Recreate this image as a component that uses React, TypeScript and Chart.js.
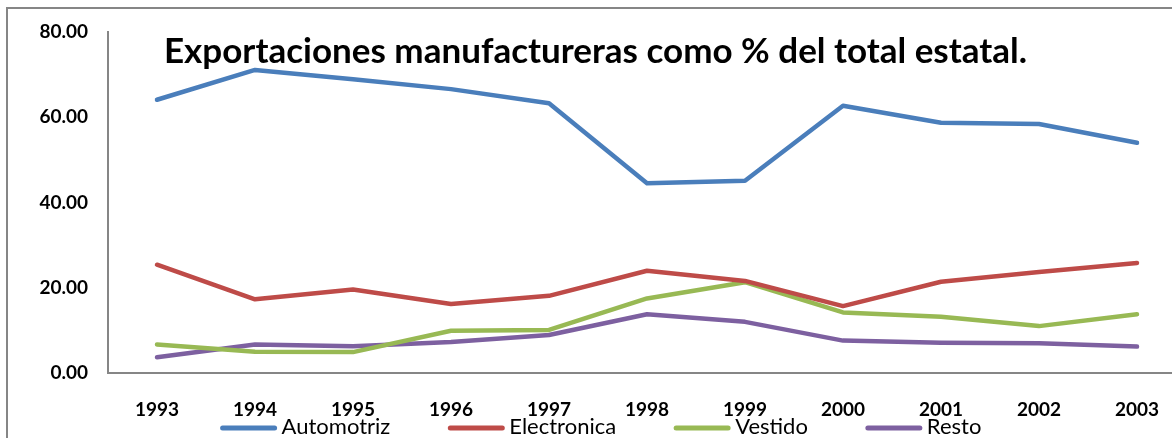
import React, { useEffect, useRef } from 'react';
import { Chart, registerables } from 'chart.js';

Chart.register(...registerables);

const years = ['1993', '1994', '1995', '1996', '1997', '1998', '1999', '2000', '2001', '2002', '2003'];
const automotriz = [64.1, 71.1, 68.9, 66.6, 63.3, 44.5, 45.1, 62.7, 58.7, 58.4, 54.0];
const electronica = [25.4, 17.3, 19.6, 16.2, 18.1, 24.0, 21.6, 15.7, 21.4, 23.7, 25.8];
const vestido = [6.7, 5.0, 4.9, 9.9, 10.1, 17.5, 21.3, 14.2, 13.2, 11.0, 13.8];
const resto = [3.7, 6.7, 6.3, 7.3, 8.9, 13.8, 12.0, 7.6, 7.1, 7.0, 6.2];
const yTicks = [0, 20, 40, 60, 80];
const seriesNames = ['Automotriz', 'Electronica', 'Vestido', 'Resto'];
const seriesColors = ['#4A7EBB', '#BE4B48', '#98B954', '#7D60A0'];
const titleText = 'Exportaciones manufactureras como % del total estatal.';

const W = 1186;
const H = 438;

const framePlugin = {
  id: 'frame',
  beforeDraw(chart: any) {
    const ctx = chart.ctx;
    ctx.save();
    ctx.fillStyle = '#ffffff';
    ctx.fillRect(0, 0, chart.width, chart.height);
    ctx.strokeStyle = '#868686';
    ctx.lineWidth = 2;
    ctx.beginPath();
    ctx.moveTo(7, H);
    ctx.lineTo(7, 8);
    ctx.lineTo(W, 8);
    ctx.stroke();
    ctx.restore();
  },
};

const legendPlugin = {
  id: 'bottomLegend',
  afterDraw(chart: any) {
    const ctx = chart.ctx;
    ctx.save();
    ctx.font = '22px Lato';
    ctx.textBaseline = 'middle';
    ctx.textAlign = 'left';
    const lineLen = 56;
    const gapText = 5;
    const gapItems = 58;
    const items = chart.data.datasets.map((ds: any) => ({
      label: ds.label,
      color: ds.borderColor,
      w: ctx.measureText(ds.label).width,
    }));
    let total = 0;
    items.forEach((it: any, i: number) => {
      total += lineLen + gapText + it.w + (i < items.length - 1 ? gapItems : 0);
    });
    let x = 601 - total / 2;
    const y = 428;
    items.forEach((it: any) => {
      ctx.strokeStyle = it.color;
      ctx.lineWidth = 5;
      ctx.lineCap = 'round';
      ctx.beginPath();
      ctx.moveTo(x + 2, y);
      ctx.lineTo(x + lineLen - 2, y);
      ctx.stroke();
      ctx.fillStyle = '#000000';
      ctx.fillText(it.label, x + lineLen + gapText, y - 1);
      x += lineLen + gapText + it.w + gapItems;
    });
    ctx.restore();
  },
};

export default function App() {
  const ref = useRef<HTMLCanvasElement | null>(null);

  useEffect(() => {
    if (!ref.current) return;
    const series = [automotriz, electronica, vestido, resto];
    const chart = new Chart(ref.current, {
      type: 'line',
      data: {
        labels: years,
        datasets: series.map((d, i) => ({
          label: seriesNames[i],
          data: d,
          borderColor: seriesColors[i],
          backgroundColor: seriesColors[i],
          borderWidth: 4.5,
          pointRadius: 0,
          tension: 0,
          borderCapStyle: 'round',
          borderJoinStyle: 'round',
        })),
      },
      options: {
        responsive: false,
        animation: false,
        layout: { padding: { left: 5, right: 0, top: 0, bottom: 0 } },
        plugins: {
          legend: { display: false },
          tooltip: { enabled: false },
          title: {
            display: true,
            text: titleText,
            color: '#000000',
            font: { family: 'Lato', size: 35, weight: 'bold', lineHeight: 1.2 },
            padding: { top: 31, bottom: -41 },
          },
        },
        scales: {
          x: {
            type: 'category',
            offset: true,
            grid: { display: false, drawTicks: false },
            border: { display: true, color: '#868686', width: 2 },
            ticks: {
              color: '#000000',
              font: { family: 'Lato', size: 19, weight: 'bold' },
              padding: 25,
              maxRotation: 0,
              autoSkip: false,
            },
            afterFit: (s: any) => {
              s.height = 65;
            },
          },
          y: {
            min: 0,
            max: 80,
            grid: { display: false, drawTicks: false },
            border: { display: true, color: '#868686', width: 2 },
            ticks: {
              color: '#000000',
              font: { family: 'Lato', size: 19, weight: 'bold' },
              padding: 20,
              callback: (v: any) => Number(v).toFixed(2),
            },
            afterBuildTicks: (s: any) => {
              s.ticks = yTicks.map((v) => ({ value: v }));
            },
            afterFit: (s: any) => {
              s.width = 103;
            },
          },
        },
      },
      plugins: [framePlugin, legendPlugin],
    });
    return () => chart.destroy();
  }, []);

  return (
    <div style={{ position: 'absolute', left: 0, top: 0, width: 1172, height: 438, overflow: 'hidden' }}>
      <canvas ref={ref} width={W} height={H} style={{ display: 'block' }} />
    </div>
  );
}
